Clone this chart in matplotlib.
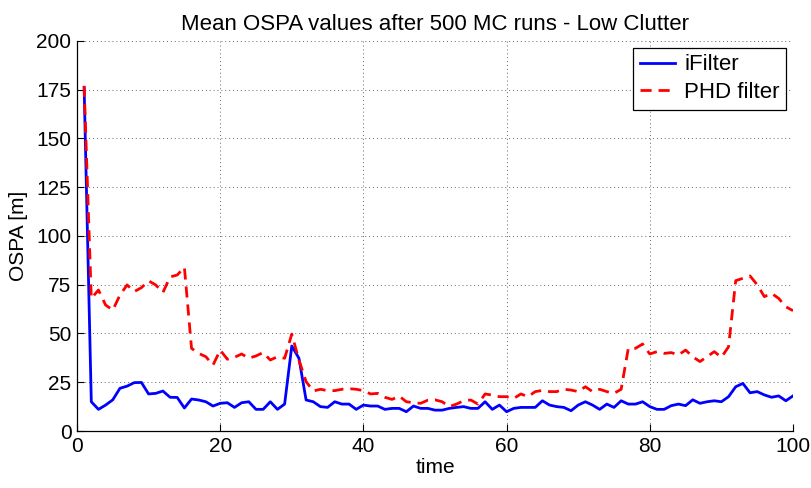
import matplotlib
matplotlib.use("Agg")
import matplotlib.pyplot as plt
from matplotlib import font_manager

names = {f.name for f in font_manager.fontManager.ttflist}
family = ["Liberation Sans Narrow"] if "Liberation Sans Narrow" in names else ["Liberation Sans", "DejaVu Sans"]
plt.rcParams["font.family"] = family + ["DejaVu Sans"]

time = list(range(1, 101))

ifilter = [
    176, 15, 11.1, 13.3, 16, 21.9, 23, 24.8, 24.9, 19,
    19.3, 20.5, 17.3, 17.2, 11.8, 16.4, 15.9, 15, 12.8, 14.2,
    14.5, 12.1, 14.5, 15, 11.1, 11.1, 15, 11.1, 13.8, 43.6,
    37.3, 15.9, 15, 12.5, 12.1, 15, 13.8, 13.8, 11.1, 13.3,
    12.8, 12.8, 11.1, 11.6, 11.6, 9.9, 12.8, 11.6, 11.6, 10.7,
    10.7, 11.6, 12.1, 12.5, 11.6, 11.6, 15, 11.1, 13.3, 9.9,
    11.6, 12.1, 12.1, 12.1, 15.5, 13.3, 12.5, 12.1, 10.4, 13.3,
    15, 13.3, 11.1, 13.8, 12.1, 15.5, 13.8, 13.8, 15, 12.5,
    11.1, 11.1, 13, 13.8, 13, 16, 14.2, 15, 15.5, 15,
    17.6, 22.7, 24.4, 19.6, 20.2, 18.5, 17.3, 18, 15.5, 18,
]

phd = [
    177, 68, 72.3, 64.6, 62, 69.7, 74.9, 71.5, 73.5, 77,
    74.9, 71, 79, 80, 84, 42.4, 39.8, 38.1, 33.8, 41.5,
    36.8, 37.8, 39.5, 37.3, 38.5, 40.2, 36.4, 38.1, 37.3, 49.7,
    36.4, 25.3, 20.5, 21.4, 20.7, 20.7, 21.4, 21.7, 21.4, 20.7,
    19, 19.3, 17.3, 16.2, 17.9, 15, 14.5, 14.2, 15.8, 16,
    15, 12.5, 13.8, 15.5, 15.9, 13.8, 19, 18.4, 17.6, 17.6,
    16.7, 19, 17.6, 20.2, 20.8, 20.2, 20.2, 21.4, 21, 20.2,
    22.7, 20.2, 21.4, 20.2, 19.3, 21.4, 42.4, 42.4, 44.6, 39.5,
    40.7, 39.8, 40.2, 39, 41.5, 38.1, 35.6, 38.1, 40.7, 37.8,
    43.2, 77.1, 78.3, 79.5, 75, 68.9, 70.6, 68, 63.7, 61.7,
]

fig = plt.figure(figsize=(8.12, 4.88), dpi=100)
ax = fig.add_axes([0.0948, 0.1168, 0.8818, 0.7992])

ax.plot(time, ifilter, color="#0000ff", lw=2.0, label="iFilter")
ax.plot(time, phd, color="#ff0000", lw=2.0, ls=(0, (4, 2.5)), label="PHD filter")

ax.set_xlim(0, 100)
ax.set_ylim(0, 200)
ax.set_xticks(range(0, 101, 20))
ax.set_yticks(range(0, 201, 25))
ax.tick_params(direction="in", labelsize=15, length=5, width=0.8, pad=4)
ax.grid(True, ls=(0, (1, 3)), color="#666666", lw=0.7)
for s in ("top", "right"):
    ax.spines[s].set_visible(False)
for s in ("left", "bottom"):
    ax.spines[s].set_linewidth(0.9)

ax.set_xlabel("time", fontsize=15, labelpad=2)
ax.set_ylabel("OSPA [m]", fontsize=15, labelpad=6)
ax.set_title("Mean OSPA values after 500 MC runs - Low Clutter", fontsize=16, pad=8)

leg = ax.legend(loc="upper right", fontsize=16, fancybox=False, framealpha=1,
                edgecolor="black", borderaxespad=0.3, handlelength=1.6,
                handletextpad=0.4, borderpad=0.3, labelspacing=0.3)
leg.get_frame().set_linewidth(0.9)

fig.savefig("out.png", dpi=100)
